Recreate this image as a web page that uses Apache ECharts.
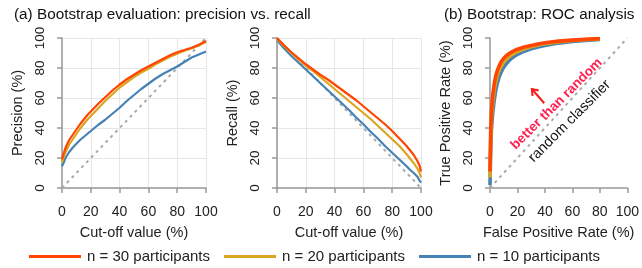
<!DOCTYPE html>
<html><head><meta charset="utf-8">
<script src="https://cdn.jsdelivr.net/npm/echarts@6/dist/echarts.min.js"></script>
<style>html,body{margin:0;padding:0;background:#fff}#c{width:642px;height:268px}</style>
</head><body><div id="c"></div>
<script>
// ---- data ----
const seriesNames = ['n = 30 participants', 'n = 20 participants', 'n = 10 participants'];
const seriesColors = ['#FF4500', '#DAA520', '#4682B4'];
const titles = ['(a) Bootstrap evaluation: precision vs. recall', '(b) Bootstrap: ROC analysis'];
const xNames = ['Cut-off value (%)', 'Cut-off value (%)', 'False Positive Rate (%)'];
const yNames = ['Precision (%)', 'Recall (%)', 'True Positive Rate (%)'];

const precX  = [0, 1, 2, 3, 4, 5, 7.5, 10, 12.5, 15, 17.5, 20, 25, 30, 35, 40, 45, 50, 55, 60, 65, 70, 75, 80, 85, 90, 95, 100];
const prec30 = [19, 22.5, 25.5, 28, 30, 32, 35.5, 39, 42.5, 45.5, 48.5, 51, 56, 60.5, 65, 69, 72.5, 75.5, 78.5, 81, 83.5, 86, 88.5, 90.5, 92, 93.5, 95.5, 98];
const prec20 = [17, 20, 23, 25, 27, 29, 32.5, 36, 39.5, 42.5, 45.5, 48, 53, 58, 62.5, 67, 70.5, 74, 77, 79.5, 82.5, 85, 87.5, 89.5, 91.5, 93, 95, 97.5];
const prec10 = [14.5, 16.5, 19, 21, 22.5, 24, 27, 29.5, 32, 34, 36, 38, 42, 45.5, 49.5, 53.5, 58, 62, 66, 69.5, 73, 76, 78.5, 81, 84, 87, 89, 91];

const recX  = [0, 5, 10, 15, 20, 25, 30, 35, 40, 45, 50, 55, 60, 65, 70, 75, 80, 85, 90, 92.5, 95, 97.5, 99, 100];
const rec30 = [100, 95, 90.5, 86.5, 82.5, 79, 75.5, 72.5, 69, 65.5, 62, 58.5, 54.5, 50.5, 46.5, 42.5, 38, 33, 28, 25, 22, 18, 15, 11];
const rec20 = [99.5, 94.5, 90, 85.5, 81.5, 78, 74, 70, 66, 62, 58, 54, 50, 46, 41.5, 37, 32.5, 28, 22.5, 19.5, 16.5, 13, 10, 7];
const rec10 = [98.5, 93, 88, 83.5, 79, 74.5, 70, 65.5, 61, 56.5, 52, 47, 42.5, 37.5, 33, 28, 23.5, 19, 14.5, 12, 10, 7.5, 5, 3.5];

const rocFPR = [0, 0.5, 1, 1.5, 2, 3, 4, 5, 6, 7, 8, 10, 12, 14, 16, 18, 20, 25, 30, 35, 40, 50, 60, 70, 80];
const roc30  = [11, 38, 50, 57, 62, 69, 74, 77.5, 80, 82, 84, 86.5, 88.3, 89.7, 90.8, 91.7, 92.5, 94, 95, 96, 96.8, 97.9, 98.6, 99.2, 99.6];
const roc20  = [7, 32, 45, 52, 57, 65, 70, 74, 77, 79.2, 81, 84, 86, 87.6, 88.9, 90, 91, 92.8, 94.2, 95.3, 96.2, 97.4, 98.3, 98.9, 99.4];
const roc10  = [2, 25, 38, 45, 50, 58, 64, 68.5, 72, 74.8, 77, 80.5, 83, 85, 86.7, 88, 89, 91.2, 92.8, 94, 95, 96.6, 97.7, 98.4, 99];

const diagUp   = [[0, 0], [100, 100]];
const diagDown = [[0, 100], [100, 0]];

// annotation anchors (data units of ROC panel)
const betterLabel = {text: 'better than random', at: [48.5, 56]};
const randomLabel = {text: 'random classifier', at: [58, 44.5]};
const arrowFrom = [39.5, 56.5];
const arrowTo = [30.5, 66];

// ---- build ----
const FONT = 'Arial, "Liberation Sans", sans-serif';
const zip = (xs, ys) => xs.map((x, i) => [x, ys[i]]);
const gridLefts = [62, 277, 490];

const grids = gridLefts.map(l => ({left: l, top: 38, width: 144, height: 150}));
const axisLineStyle = {color: '#999', width: 1.5};
const xAxes = gridLefts.map((l, i) => ({
  type: 'value', gridIndex: i, min: 0, max: 100, interval: 20,
  axisLine: {show: true, lineStyle: axisLineStyle},
  axisTick: {show: true, length: 5, lineStyle: axisLineStyle},
  axisLabel: {fontSize: 14, color: '#222', margin: 17, showMaxLabel: true},
  splitLine: {show: i < 2, lineStyle: {color: '#e6e6e6', width: 1}},
  name: xNames[i], nameLocation: 'middle', nameGap: 37,
  nameTextStyle: {fontSize: 14.5, color: '#222'}
}));
const yAxes = gridLefts.map((l, i) => ({
  type: 'value', gridIndex: i, min: 0, max: 100, interval: 20,
  axisLine: {show: true, lineStyle: axisLineStyle},
  axisTick: {show: true, length: 5, lineStyle: axisLineStyle},
  axisLabel: {fontSize: 13.5, color: '#222', margin: 15, rotate: 90},
  splitLine: {show: i < 2, lineStyle: {color: '#e6e6e6', width: 1}},
  name: yNames[i], nameLocation: 'middle', nameGap: 37,
  nameTextStyle: {fontSize: 14.5, color: '#222'}
}));

const series = [];
function diag(idx, data) {
  series.push({type: 'line', xAxisIndex: idx, yAxisIndex: idx, data, symbol: 'none', silent: true,
    lineStyle: {color: '#aaaaaa', width: 2, type: [3, 4]}, z: 1});
}
diag(0, diagUp); diag(1, diagDown); diag(2, diagUp);

const panelData = [
  [precX, [prec30, prec20, prec10], 2.2],
  [recX, [rec30, rec20, rec10], 2.2],
  [rocFPR, [roc30, roc20, roc10], 3.6]
];
panelData.forEach(([xs, ys, w], p) => {
  for (let k = 2; k >= 0; k--) {
    series.push({
      type: 'line', name: seriesNames[k], xAxisIndex: p, yAxisIndex: p,
      data: zip(xs, ys[k]), symbol: 'none', smooth: false,
      color: seriesColors[k],
      lineStyle: {color: seriesColors[k], width: w, join: 'round'}, z: 3
    });
  }
});

const chart = echarts.init(document.getElementById('c'), null, {renderer: 'canvas'});
chart.setOption({
  animation: false,
  textStyle: {fontFamily: FONT},
  title: [
    {text: titles[0], left: 14, top: 7, padding: 0, textStyle: {fontSize: 15.3, fontWeight: 'normal', color: '#111', fontFamily: FONT}},
    {text: titles[1], left: 444, top: 7, padding: 0, textStyle: {fontSize: 15.3, fontWeight: 'normal', color: '#111', fontFamily: FONT}}
  ],
  legend: {
    data: seriesNames, left: 29, top: 249, padding: 0, itemGap: 14,
    itemWidth: 52, itemHeight: 3, icon: 'rect',
    textStyle: {fontSize: 15, color: '#222', fontFamily: FONT, padding: [0, 0, 0, 1]}
  },
  grid: grids, xAxis: xAxes, yAxis: yAxes, series
});

// annotations on the ROC panel
const px = v => chart.convertToPixel({gridIndex: 2}, v);
const b = px(betterLabel.at), r = px(randomLabel.at), a0 = px(arrowFrom), a1 = px(arrowTo);
const ang = Math.atan2(a1[1] - a0[1], a1[0] - a0[0]);
const head = 7, spread = Math.PI / 5;
const h1 = [a1[0] - head * Math.cos(ang - spread), a1[1] - head * Math.sin(ang - spread)];
const h2 = [a1[0] - head * Math.cos(ang + spread), a1[1] - head * Math.sin(ang + spread)];
chart.setOption({
  graphic: [
    {type: 'text', x: b[0], y: b[1], rotation: Math.PI / 4, z: 10,
      style: {text: betterLabel.text, fill: '#FF2050', font: 'bold 13.5px ' + FONT, align: 'center', verticalAlign: 'middle'}},
    {type: 'text', x: r[0], y: r[1], rotation: Math.PI / 4, z: 10,
      style: {text: randomLabel.text, fill: '#111', font: '14.5px ' + FONT, align: 'center', verticalAlign: 'middle'}},
    {type: 'polyline', z: 10, shape: {points: [a0, a1]}, style: {stroke: '#FF1A1A', lineWidth: 2, fill: null}},
    {type: 'polyline', z: 10, shape: {points: [h1, a1, h2]}, style: {stroke: '#FF1A1A', lineWidth: 2, fill: null}}
  ]
});
</script>
</body></html>
